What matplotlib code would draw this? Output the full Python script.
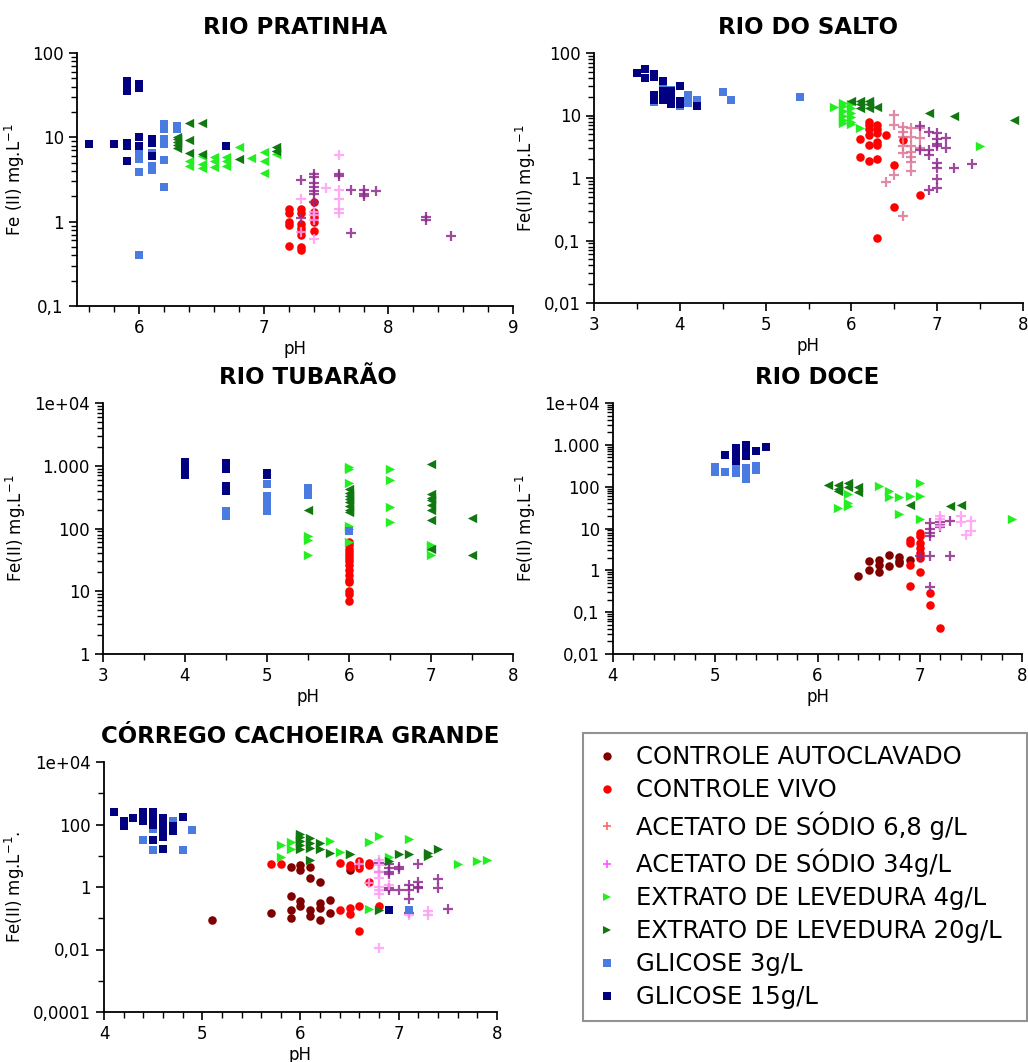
import matplotlib
matplotlib.use("Agg")
import matplotlib.pyplot as plt
from matplotlib.lines import Line2D
from matplotlib.ticker import FixedLocator, MultipleLocator, LogLocator, NullFormatter

# ---- data: (pH, Fe(II) mg/L) ----
# RIO PRATINHA
pra_cv = [(7.2, 1.4), (7.2, 1.25), (7.2, 1.0), (7.2, 0.92), (7.2, 0.52), (7.3, 1.4), (7.3, 1.25),
          (7.3, 0.95), (7.3, 0.85), (7.3, 0.78), (7.3, 0.7), (7.3, 0.5), (7.3, 0.46), (7.4, 1.7),
          (7.4, 1.3), (7.4, 1.15), (7.4, 1.0), (7.4, 0.78)]
pra_a68 = [(7.3, 3.1), (7.3, 1.1), (7.4, 3.7), (7.4, 3.4), (7.4, 2.9), (7.4, 2.6), (7.4, 2.3), (7.4, 2.1),
           (7.4, 1.7), (7.6, 3.7), (7.6, 3.5), (7.7, 2.4), (7.7, 0.73), (7.8, 2.4), (7.8, 2.1), (7.8, 2.0),
           (7.9, 2.3), (8.3, 1.15), (8.3, 1.05), (8.5, 0.67)]
pra_a34 = [(7.3, 1.85), (7.3, 0.75), (7.4, 1.3), (7.4, 1.2), (7.4, 1.05), (7.4, 0.63), (7.5, 2.5),
           (7.6, 6.2), (7.6, 2.4), (7.6, 1.85), (7.6, 1.4), (7.6, 1.25)]
pra_e4 = [(6.4, 5.2), (6.4, 4.6), (6.5, 6.0), (6.5, 4.8), (6.5, 4.3), (6.6, 5.8), (6.6, 5.3), (6.6, 4.4),
          (6.7, 5.8), (6.7, 5.2), (6.7, 4.6), (6.8, 7.6), (6.9, 5.7), (7.0, 6.7), (7.0, 5.3), (7.0, 3.8),
          (7.1, 6.3), (7.1, 6.9)]
pra_e20 = [(6.3, 10), (6.3, 9.5), (6.3, 8.8), (6.3, 8.2), (6.3, 7.5), (6.4, 14.8), (6.4, 9.3), (6.4, 6.6),
           (6.5, 14.8), (6.5, 6.3), (6.8, 5.6), (7.1, 7.6), (7.1, 6.8)]
pra_g3 = [(6.0, 7.0), (6.0, 6.2), (6.0, 5.6), (6.0, 3.9), (6.0, 0.4), (6.1, 6.5), (6.1, 4.6), (6.1, 4.1),
          (6.2, 14.5), (6.2, 12.5), (6.2, 9.5), (6.2, 8.4), (6.2, 5.4), (6.2, 2.6), (6.3, 13.5), (6.3, 12.5)]
pra_g15 = [(5.6, 8.3), (5.8, 8.3), (5.9, 46), (5.9, 42), (5.9, 38), (5.9, 35), (5.9, 8.5), (5.9, 7.8),
           (5.9, 5.3), (6.0, 43), (6.0, 38), (6.0, 10), (6.0, 8.0), (6.1, 9.5), (6.1, 8.6), (6.1, 6.0), (6.7, 7.8)]

# RIO DO SALTO
sal_cv = [(6.1, 4.2), (6.1, 2.15), (6.2, 8), (6.2, 7), (6.2, 6), (6.2, 4.8), (6.2, 3.4), (6.2, 1.9),
          (6.3, 7), (6.3, 6), (6.3, 5.2), (6.3, 3.7), (6.3, 3.4), (6.3, 2.0), (6.3, 0.11), (6.4, 4.8),
          (6.5, 1.6), (6.5, 0.34), (6.6, 4.1), (6.8, 0.54)]
sal_a68 = [(6.4, 0.87), (6.5, 10.2), (6.5, 7.1), (6.5, 1.1), (6.6, 6.5), (6.6, 5.5), (6.6, 4.6), (6.6, 3.2),
           (6.6, 2.5), (6.6, 0.25), (6.7, 6.3), (6.7, 4.6), (6.7, 3.2), (6.7, 2.6), (6.7, 2.2), (6.7, 1.8),
           (6.7, 1.3), (6.8, 6.3), (6.8, 4.3), (6.8, 3.0)]
sal_a34 = [(6.8, 6.7), (6.8, 2.8), (6.9, 5.5), (6.9, 2.8), (6.9, 2.3), (6.9, 0.65), (7.0, 5.2), (7.0, 4.2),
           (7.0, 3.5), (7.0, 3.2), (7.0, 1.75), (7.0, 1.45), (7.0, 0.97), (7.0, 0.7), (7.1, 4.3), (7.1, 3.0),
           (7.2, 1.45), (7.4, 1.7)]
sal_e4 = [(5.8, 13.5), (5.9, 16), (5.9, 14), (5.9, 12), (5.9, 10), (5.9, 8.5), (5.9, 7.5), (6.0, 15),
          (6.0, 13), (6.0, 11), (6.0, 9.5), (6.0, 8), (6.0, 7.2), (6.1, 6.3), (7.5, 3.2)]
sal_e20 = [(6.0, 17), (6.1, 17), (6.1, 15), (6.1, 13), (6.2, 17), (6.2, 15), (6.2, 13), (6.3, 13.5),
           (6.9, 11), (7.2, 10), (7.9, 8.6)]
sal_g3 = [(3.7, 16.5), (3.8, 29), (3.9, 26), (4.0, 14), (4.1, 21), (4.1, 16), (4.2, 18), (4.5, 24),
          (4.6, 18), (5.4, 20)]
sal_g15 = [(3.5, 48), (3.6, 55), (3.6, 40), (3.7, 46), (3.7, 42), (3.7, 21), (3.7, 18), (3.8, 35), (3.8, 25),
           (3.8, 21), (3.8, 18), (3.9, 25), (3.9, 22), (3.9, 18), (3.9, 15.5), (4.0, 30), (4.0, 17),
           (4.0, 15), (4.2, 14)]

# RIO TUBARÃO
tub_cv = [(6, 62), (6, 55), (6, 48), (6, 42), (6, 38), (6, 34), (6, 30), (6, 26), (6, 22), (6, 18),
          (6, 15), (6, 14), (6, 10), (6, 9), (6, 7)]
tub_e4 = [(5.5, 75), (5.5, 65), (5.5, 38), (6, 950), (6, 900), (6, 530), (6, 110), (6, 100), (6, 60),
          (6.5, 900), (6.5, 600), (6.5, 220), (6.5, 125), (7, 55), (7, 50), (7, 38)]
tub_e20 = [(5.5, 200), (6, 420), (6, 370), (6, 330), (6, 290), (6, 260), (6, 230), (6, 200), (6, 180),
           (7, 1050), (7, 350), (7, 310), (7, 280), (7, 240), (7, 200), (7, 135), (7, 48), (7.5, 145), (7.5, 38)]
tub_g3 = [(4.5, 190), (4.5, 170), (4.5, 160), (5, 520), (5, 330), (5, 290), (5, 260), (5, 220), (5, 190),
          (5.5, 440), (5.5, 340), (6, 90)]
tub_g15 = [(4, 1150), (4, 1050), (4, 950), (4, 870), (4, 800), (4, 720), (4.5, 1100), (4.5, 1000),
           (4.5, 900), (4.5, 480), (4.5, 430), (4.5, 400), (5, 780), (5, 700)]

# RIO DOCE
doc_ca = [(6.4, 0.75), (6.5, 1.7), (6.5, 1.0), (6.6, 1.8), (6.6, 1.35), (6.6, 0.93), (6.7, 2.3), (6.7, 1.3),
          (6.8, 2.1), (6.8, 1.7), (6.8, 1.5), (6.9, 1.8)]
doc_cv = [(6.9, 5.3), (6.9, 4.5), (6.9, 1.35), (6.9, 0.42), (7.0, 8), (7.0, 6.5), (7.0, 4.5), (7.0, 3.5),
          (7.0, 2.6), (7.0, 2.0), (7.0, 0.93), (7.1, 0.28), (7.1, 0.15), (7.2, 0.042)]
doc_a68 = [(7.0, 2.2), (7.1, 13.5), (7.1, 10), (7.1, 8), (7.1, 6.5), (7.1, 2.2), (7.1, 0.39), (7.2, 14.5),
           (7.2, 12), (7.2, 11), (7.3, 15.5), (7.3, 2.2)]
doc_a34 = [(7.2, 20), (7.2, 17), (7.2, 11.5), (7.4, 20), (7.4, 14.5), (7.45, 7), (7.5, 15.5), (7.5, 8.7)]
doc_e4 = [(6.2, 31), (6.3, 67), (6.3, 41), (6.3, 35), (6.6, 105), (6.7, 80), (6.7, 58), (6.8, 58), (6.8, 22),
          (6.9, 60), (7.0, 120), (7.0, 60), (7.0, 17), (7.9, 17)]
doc_e20 = [(6.1, 110), (6.2, 110), (6.2, 90), (6.2, 80), (6.3, 120), (6.3, 100), (6.4, 100), (6.4, 76),
           (6.9, 36), (7.3, 34), (7.4, 36)]
doc_g3 = [(5.0, 290), (5.0, 260), (5.0, 220), (5.1, 220), (5.2, 280), (5.2, 210), (5.3, 280), (5.3, 220),
          (5.3, 180), (5.3, 150), (5.4, 320), (5.4, 250)]
doc_g15 = [(5.1, 570), (5.2, 840), (5.2, 650), (5.2, 500), (5.2, 400), (5.3, 1000), (5.3, 800), (5.3, 650),
           (5.3, 550), (5.4, 700), (5.5, 870)]

# CÓRREGO CACHOEIRA GRANDE
cor_ca = [(5.1, 0.09), (5.7, 0.15), (5.9, 4.5), (5.9, 0.5), (5.9, 0.18), (5.9, 0.1), (6.0, 5), (6.0, 3.5),
          (6.0, 0.35), (6.0, 0.25), (6.1, 4.5), (6.1, 2), (6.1, 0.18), (6.1, 0.12), (6.2, 1.4), (6.2, 0.3),
          (6.2, 0.22), (6.2, 0.09), (6.3, 0.38), (6.3, 0.15), (6.5, 3.5)]
cor_cv = [(5.7, 5.5), (5.8, 5.5), (6.4, 6), (6.4, 0.18), (6.5, 5), (6.5, 4.5), (6.5, 0.21), (6.5, 0.14),
          (6.6, 7), (6.6, 5), (6.6, 4), (6.6, 0.25), (6.6, 0.04), (6.7, 6), (6.7, 5), (6.7, 1.4), (6.8, 0.25)]
cor_a68 = [(6.8, 6), (6.8, 3), (6.9, 5.5), (6.9, 4), (6.9, 3), (6.9, 2.6), (6.9, 0.95), (6.9, 0.8),
           (7.0, 4.5), (7.0, 3.8), (7.0, 0.8), (7.1, 1.2), (7.1, 0.8), (7.1, 0.4), (7.1, 0.15), (7.2, 5.6),
           (7.2, 1.4), (7.2, 1.0), (7.2, 0.9), (7.4, 1.8), (7.4, 0.9), (7.5, 0.2)]
cor_a34 = [(6.6, 5.5), (6.7, 1.3), (6.8, 7.5), (6.8, 5), (6.8, 3), (6.8, 2), (6.8, 1.0), (6.8, 0.8),
           (6.8, 0.6), (6.8, 0.011), (6.9, 1.2), (7.1, 0.13), (7.3, 0.17), (7.3, 0.13)]
cor_e4 = [(5.8, 22), (5.8, 9), (5.9, 28), (5.9, 17), (6.0, 30), (6.3, 30), (6.4, 13), (6.5, 11), (6.7, 27),
          (6.7, 0.2), (6.8, 42), (6.9, 9), (7.1, 35), (7.6, 5.5), (7.8, 7), (7.9, 7.5)]
cor_e20 = [(6.0, 50), (6.0, 40), (6.0, 30), (6.0, 22), (6.0, 16), (6.1, 37), (6.1, 25), (6.1, 18), (6.1, 7.5),
           (6.2, 25), (6.2, 16), (6.3, 12), (6.5, 11), (6.8, 0.19), (6.9, 7), (7.0, 11), (7.1, 11), (7.3, 12),
           (7.3, 9.5), (7.4, 16)]
cor_g3 = [(4.4, 33), (4.5, 140), (4.5, 70), (4.5, 15), (4.7, 125), (4.8, 15), (4.9, 68), (7.1, 0.18)]
cor_g15 = [(4.1, 260), (4.2, 130), (4.2, 90), (4.3, 160), (4.4, 260), (4.4, 200), (4.4, 130), (4.5, 250),
           (4.5, 170), (4.5, 110), (4.5, 100), (4.5, 33), (4.6, 160), (4.6, 100), (4.6, 70), (4.6, 50),
           (4.6, 40), (4.6, 17), (4.7, 90), (4.7, 60), (4.8, 170), (6.9, 0.18)]

legend_labels = ["CONTROLE AUTOCLAVADO", "CONTROLE VIVO", "ACETATO DE SÓDIO 6,8 g/L",
                 "ACETATO DE SÓDIO 34g/L", "EXTRATO DE LEVEDURA 4g/L", "EXTRATO DE LEVEDURA 20g/L",
                 "GLICOSE 3g/L", "GLICOSE 15g/L"]
legend_colors = ["#800000", "#ff0000", "#ff6666", "#ff55ff", "#22ee22", "#117711", "#4a7be0", "#000080"]

W, H = 1028, 1062
fig = plt.figure(figsize=(W / 100, H / 100), dpi=100)
plt.rcParams["font.family"] = "DejaVu Sans"

PURPLE = "#8e2a8e"
LPINK = "#ff9cf5"
SALMON = "#dc7695"

# axes box in pixels (left, top, right, bottom), limits, ticks and tick labels per panel
panels = [
    dict(title="RIO PRATINHA", box=(77, 53, 513, 306), xlim=(5.5, 9), xt=[6, 7, 8, 9], xm=0.2,
         ylim=(0.1, 100), yt=[0.1, 1, 10, 100], yl=["0,1", "1", "10", "100"], ylab="Fe (II) mg.L$^{-1}$",
         tri=("<", "<"), ac=(PURPLE, LPINK),
         series=[[], pra_cv, pra_a68, pra_a34, pra_e4, pra_e20, pra_g3, pra_g15]),
    dict(title="RIO DO SALTO", box=(594, 53, 1023, 303), xlim=(3, 8), xt=[3, 4, 5, 6, 7, 8], xm=0.5,
         ylim=(0.01, 100), yt=[0.01, 0.1, 1, 10, 100], yl=["0,01", "0,1", "1", "10", "100"],
         ylab="Fe(II) mg.L$^{-1}$", tri=(">", "<"), ac=(SALMON, PURPLE),
         series=[[], sal_cv, sal_a68, sal_a34, sal_e4, sal_e20, sal_g3, sal_g15]),
    dict(title="RIO TUBARÃO", box=(103, 403, 513, 654), xlim=(3, 8), xt=[3, 4, 5, 6, 7, 8], xm=0.5,
         ylim=(1, 1e4), yt=[1, 10, 100, 1000, 1e4], yl=["1", "10", "100", "1.000", "1e+04"],
         ylab="Fe(II) mg.L$^{-1}$", tri=(">", "<"), ac=(PURPLE, LPINK),
         series=[[], tub_cv, [], [], tub_e4, tub_e20, tub_g3, tub_g15]),
    dict(title="RIO DOCE", box=(613, 403, 1022, 654), xlim=(4, 8), xt=[4, 5, 6, 7, 8], xm=0.2,
         ylim=(0.01, 1e4), yt=[0.01, 0.1, 1, 10, 100, 1000, 1e4],
         yl=["0,01", "0,1", "1", "10", "100", "1.000", "1e+04"],
         ylab="Fe(II) mg.L$^{-1}$", tri=(">", "<"), ac=(PURPLE, LPINK),
         series=[doc_ca, doc_cv, doc_a68, doc_a34, doc_e4, doc_e20, doc_g3, doc_g15]),
    dict(title="CÓRREGO CACHOEIRA GRANDE", box=(104, 762, 497, 1012), xlim=(4, 8), xt=[4, 5, 6, 7, 8], xm=0.2,
         ylim=(1e-4, 1e4), yt=[1e-4, 0.01, 1, 100, 1e4], yl=["0,0001", "0,01", "1", "100", "1e+04"],
         ylab="Fe(II) mg.L$^{-1}$.", tri=(">", ">"), ac=(PURPLE, LPINK),
         series=[cor_ca, cor_cv, cor_a68, cor_a34, cor_e4, cor_e20, cor_g3, cor_g15]),
]

for p in panels:
    l, t, r, b = p["box"]
    ax = fig.add_axes([l / W, 1 - b / H, (r - l) / W, (b - t) / H])
    colors = ["#800000", "#ff0000", p["ac"][0], p["ac"][1], "#22ee22", "#117711", "#4a7be0", "#000080"]
    markers = ["o", "o", "+", "+", p["tri"][0], p["tri"][1], "s", "s"]
    sizes = [38, 38, 55, 55, 45, 45, 28, 28]
    for pts, c, m, s in zip(p["series"], colors, markers, sizes):
        if not pts:
            continue
        xs, ys = zip(*pts)
        if m == "+":
            ax.scatter(xs, ys, marker=m, s=s, color=c, linewidths=1.6, alpha=0.85, zorder=3)
        else:
            ax.scatter(xs, ys, marker=m, s=s, color=c, linewidths=0, zorder=3)
    ax.set_yscale("log")
    ax.set_xlim(*p["xlim"])
    ax.set_ylim(*p["ylim"])
    ax.xaxis.set_major_locator(FixedLocator(p["xt"]))
    ax.xaxis.set_minor_locator(MultipleLocator(p["xm"]))
    ax.yaxis.set_major_locator(FixedLocator(p["yt"]))
    ax.set_yticklabels(p["yl"])
    if p["title"].startswith("CÓRREGO"):
        ax.yaxis.set_minor_locator(LogLocator(base=10, subs=(1.0,), numticks=20))
    else:
        ax.yaxis.set_minor_locator(LogLocator(base=10, subs=range(2, 10), numticks=20))
    ax.yaxis.set_minor_formatter(NullFormatter())
    for side in ("top", "right"):
        ax.spines[side].set_visible(False)
    for side in ("left", "bottom"):
        ax.spines[side].set_linewidth(1.3)
    ax.tick_params(which="major", length=6, width=1.2, labelsize=12, direction="out")
    ax.tick_params(which="minor", length=4, width=1.0, direction="out")
    ax.set_title(p["title"], fontsize=16.5, fontweight="bold", pad=14)
    ax.set_xlabel("pH", fontsize=12, labelpad=2)
    ax.set_ylabel(p["ylab"], fontsize=12, labelpad=4)

handles = []
for lab, c in zip(legend_labels, legend_colors):
    m = {"CONTROLE": "o", "ACETATO ": "+", "EXTRATO ": ">", "GLICOSE ": "s"}[lab[:8]]
    handles.append(Line2D([], [], linestyle="none", marker=m, color=c, markersize=6 if m != "s" else 5.5,
                          markeredgewidth=1.2 if m == "+" else 0))
leg = fig.legend(handles, legend_labels, loc="upper left",
                 bbox_to_anchor=(583 / W, 1 - 1017 / H, 444 / W, 284 / H), mode="expand",
                 fontsize=17.5, frameon=True, fancybox=False, borderaxespad=0, borderpad=0.5,
                 handlelength=1.0, handletextpad=0.7, labelspacing=0.37)
leg.get_frame().set_edgecolor("#777777")
leg.get_frame().set_linewidth(1.5)

fig.savefig("out.png", dpi=100)
